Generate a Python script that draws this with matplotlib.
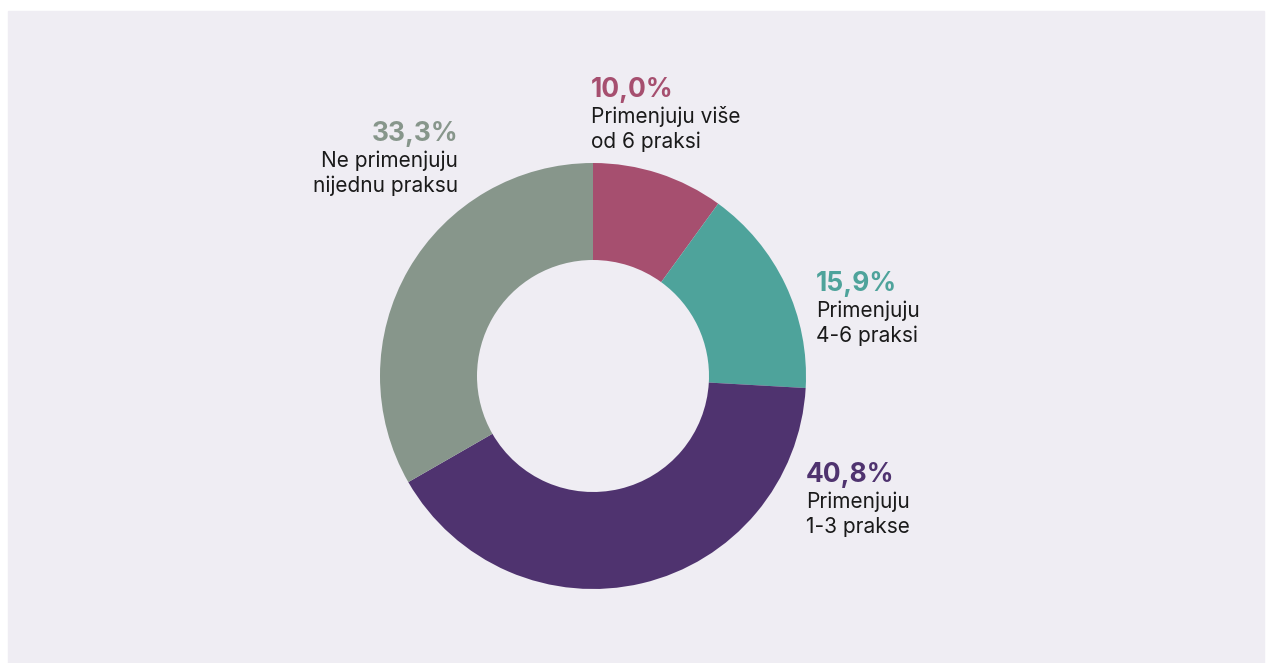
import matplotlib.pyplot as plt
from matplotlib.patches import Rectangle

# podaci
shares = [10.0, 15.9, 40.8, 33.3]
pct_labels = ['10,0%', '15,9%', '40,8%', '33,3%']
desc_labels = [
    ['Primenjuju više', 'od 6 praksi'],
    ['Primenjuju', '4-6 praksi'],
    ['Primenjuju', '1-3 prakse'],
    ['Ne primenjuju', 'nijednu praksu'],
]
colors = ['#a64f6f', '#4ea39b', '#4f336f', '#87968b']

W, H = 1269, 663
bg = '#efedf3'

plt.rcParams['font.family'] = ['Inter', 'DejaVu Sans']

fig = plt.figure(figsize=(W / 100, H / 100), dpi=100)
fig.patch.set_facecolor('white')
fig.patches.append(Rectangle((8 / W, 0), (1264 - 8) / W, (H - 11) / H,
                             transform=fig.transFigure, color=bg, zorder=-1))

ax = fig.add_axes([0, 0, 1, 1])
ax.set_facecolor('none')

# donut
cx, cy = 593, H - 376
r_out, r_in = 213, 116
ax.pie(shares, colors=colors, startangle=90, counterclock=False,
       radius=r_out, center=(cx, cy),
       wedgeprops=dict(width=r_out - r_in, linewidth=0))
ax.set_xlim(0, W)
ax.set_ylim(0, H)
ax.axis('off')

# pozicije natpisa (px): x, baseline procenta, poravnanje
label_pos = [(591, 97, 'left'), (816, 291, 'left'), (806, 482, 'left'), (458, 141, 'right')]

for i, (x, y, ha) in enumerate(label_pos):
    ax.text(x, H - y, pct_labels[i], color=colors[i], fontsize=19,
            fontweight='bold', ha=ha, va='baseline')
    for j, line in enumerate(desc_labels[i]):
        ax.text(x, H - (y + 26 + 25 * j), line, color='#1a1a1a', fontsize=15,
                ha=ha, va='baseline')

fig.savefig('out.png', dpi=100, facecolor=fig.get_facecolor())
